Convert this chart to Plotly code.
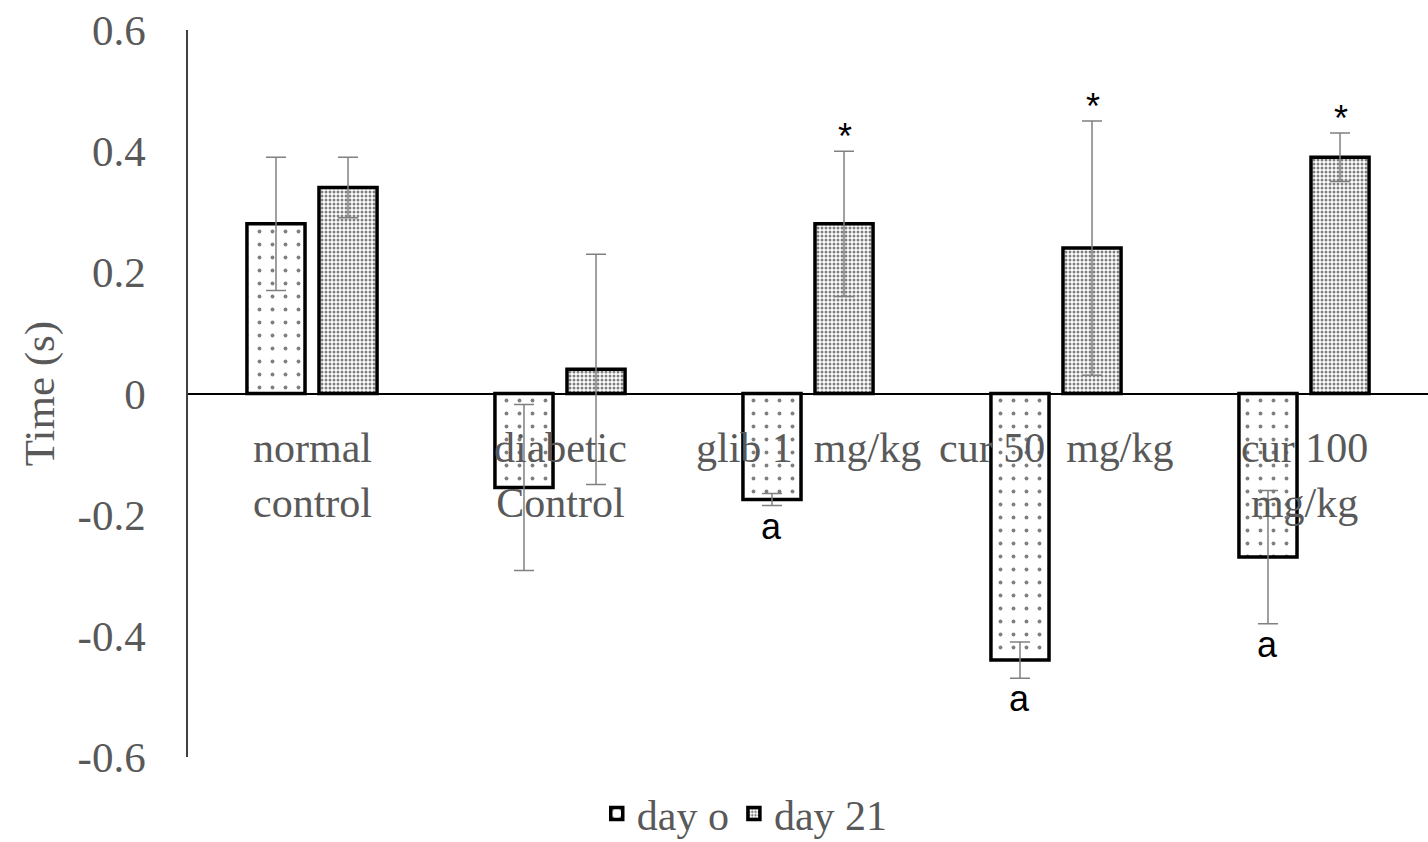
import plotly.graph_objects as go

categories = ["normal control", "diabetic Control", "glib 1 mg/kg", "cur 50 mg/kg", "cur 100 mg/kg"]
tick_labels = ["normal<br>control", "diabetic<br>Control", "glib 1  mg/kg", "cur 50  mg/kg", "cur 100<br>mg/kg"]
day0_values = [0.28, -0.155, -0.175, -0.44, -0.27]
day0_errors = [0.11, 0.137, 0.01, 0.03, 0.11]
day21_values = [0.34, 0.04, 0.28, 0.24, 0.39]
day21_errors = [0.05, 0.19, 0.12, 0.21, 0.04]
day0_marks = ["", "", "a", "a", "a"]
day21_marks = ["", "", "*", "*", "*"]
series_names = ["day o", "day 21"]
y_ticks = [-0.6, -0.4, -0.2, 0, 0.2, 0.4, 0.6]

SERIF = "Liberation Serif, Times New Roman, serif"
SANS = "Liberation Sans, Arial, sans-serif"
GRAY = "#595959"
FS = 43

fig = go.Figure()
fig.add_trace(go.Bar(
    name=series_names[0], x=categories, y=day0_values,
    marker=dict(color="white", line=dict(color="black", width=3.5),
                pattern=dict(shape=".", fgcolor="black", bgcolor="white", size=13, solidity=0.07)),
    error_y=dict(type="data", array=day0_errors, color="#808080", thickness=1.5, width=10),
))
fig.add_trace(go.Bar(
    name=series_names[1], x=categories, y=day21_values,
    marker=dict(color="white", line=dict(color="black", width=3.5),
                pattern=dict(shape=".", fgcolor="black", bgcolor="white", size=4, solidity=0.45)),
    error_y=dict(type="data", array=day21_errors, color="#808080", thickness=1.5, width=10),
))

annotations = []
for c, lab in zip(categories, tick_labels):
    annotations.append(dict(x=c, y=0, xref="x", yref="y", text=lab, showarrow=False,
                            yanchor="top", yshift=-29, font=dict(family=SERIF, size=42, color=GRAY)))
for c, v, e, m in zip(categories, day0_values, day0_errors, day0_marks):
    if m:
        annotations.append(dict(x=c, y=v - e, xref="x", yref="y", text=m, showarrow=False,
                                yanchor="top", yshift=2, xshift=-37,
                                font=dict(family=SANS, size=36, color="black")))
for c, v, e, m in zip(categories, day21_values, day21_errors, day21_marks):
    if m:
        annotations.append(dict(x=c, y=v + e, xref="x", yref="y", text=m, showarrow=False,
                                yanchor="bottom", yshift=-8, xshift=37,
                                font=dict(family=SANS, size=36, color="black")))

fig.update_layout(
    width=1428, height=842,
    margin=dict(l=188, r=0, t=30, b=85, autoexpand=False),
    paper_bgcolor="white", plot_bgcolor="white",
    barmode="group", bargap=0.419, bargroupgap=0.194,
    font=dict(family=SERIF, size=FS, color=GRAY),
    showlegend=True,
    legend=dict(orientation="h", x=0.449, xanchor="center", y=-0.078, yanchor="middle",
                font=dict(family=SERIF, size=42, color=GRAY), itemwidth=30),
    annotations=annotations,
    xaxis=dict(showticklabels=False, showline=False, showgrid=False, zeroline=False, ticks=""),
    yaxis=dict(range=[-0.6, 0.6], tickvals=y_ticks, ticktext=[("%g" % t) for t in y_ticks],
               showgrid=False, showline=True, linecolor="#404040", linewidth=1.5,
               zeroline=True, zerolinecolor="black", zerolinewidth=1.5,
               ticks="", ticklabelstandoff=32,
               tickfont=dict(family=SERIF, size=FS, color=GRAY),
               title=dict(text="Time (s)", font=dict(family=SERIF, size=FS, color=GRAY), standoff=10)),
)

fig.write_html("out.html")
